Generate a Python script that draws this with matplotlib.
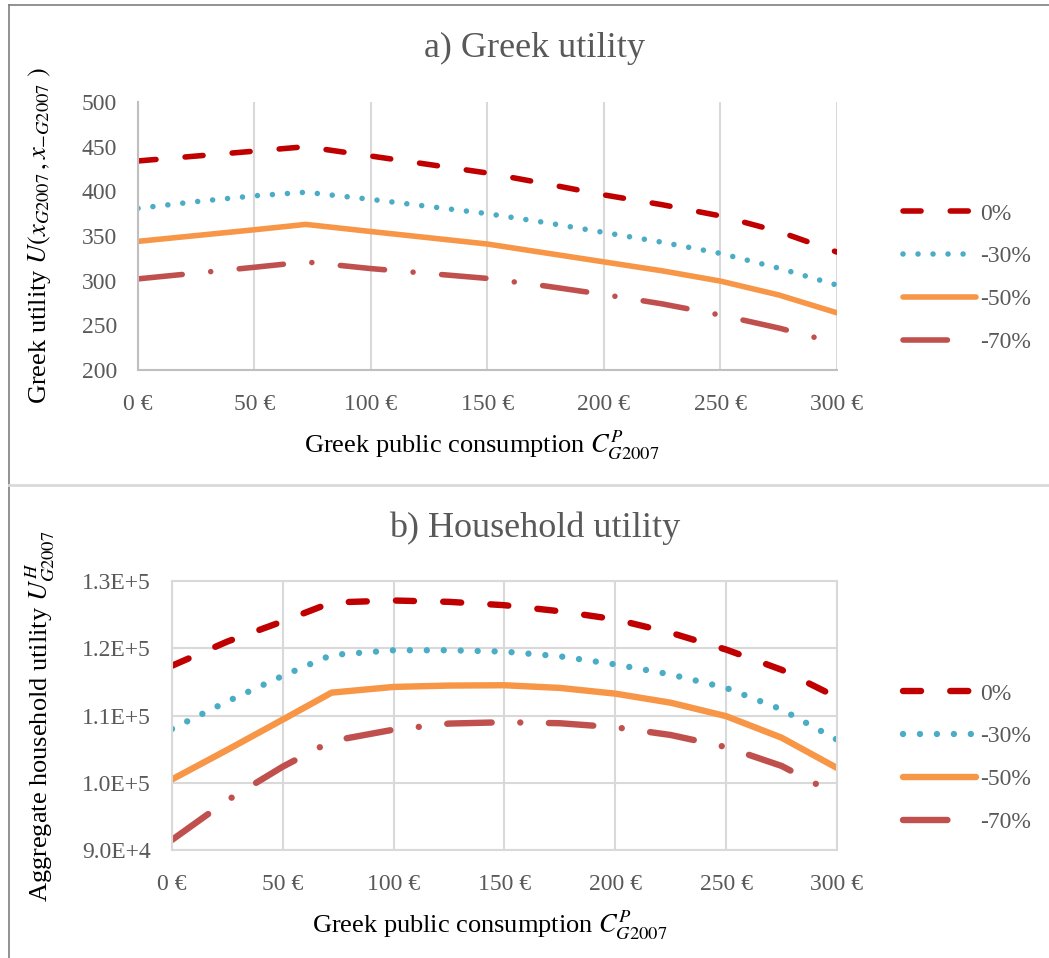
# Greek / household utility vs. public consumption, two stacked panels
import numpy as np
import matplotlib
matplotlib.use('Agg')
import matplotlib.pyplot as plt
from matplotlib.lines import Line2D
from matplotlib.ticker import FixedLocator, FuncFormatter

plt.rcParams['font.family'] = ['Liberation Serif', 'DejaVu Serif']
plt.rcParams['mathtext.fontset'] = 'stix'
plt.rcParams['lines.scale_dashes'] = False

# public consumption grid (euro)
cons = [0, 25, 50, 72, 100, 125, 150, 175, 200, 225, 250, 275, 300]
scenarios = ['0%', '-30%', '-50%', '-70%']

# a) Greek utility
greek_0 = [434, 439.5, 445, 450, 439.5, 430, 420.5, 408.5, 396, 385, 372.5, 355, 332]
greek_30 = [381, 388.5, 395, 399, 391, 383, 375, 365, 354, 343, 330.5, 314, 295]
greek_50 = [344, 350.5, 357, 363, 355, 348, 341, 331, 321, 311, 299.5, 284, 264]
greek_70 = [302, 308.5, 315, 321, 313.5, 308, 302.5, 294, 284.5, 274, 261.5, 247, 230]

# b) aggregate household utility
hh_0 = [117400, 121000, 124000, 126800, 127100, 126900, 126400, 125500, 124300, 122300, 119800, 116800, 112700]
hh_30 = [108000, 112100, 115900, 119000, 119700, 119700, 119500, 118800, 117600, 116100, 114100, 110900, 106400]
hh_50 = [100500, 104900, 109400, 113400, 114250, 114450, 114500, 114100, 113250, 111900, 109900, 106700, 102200]
hh_70 = [91500, 97400, 102400, 106200, 107900, 108800, 109000, 108850, 108250, 107100, 105300, 102500, 98200]

colors = ['#C00000', '#4BACC6', '#F79646', '#C0504D']
grey_txt = '#595959'
grid_c = '#D9D9D9'

W, H = 1049, 958
fig = plt.figure(figsize=(W / 100, H / 100), dpi=100)


def box(l, t, r, b):
    return [l / W, 1 - b / H, (r - l) / W, (b - t) / H]


def euro(v, pos):
    return '%d €' % v


def excel_sci(v, pos):
    e = int(np.floor(np.log10(v)))
    return '%.1fE+%d' % (v / 10 ** e, e)


def draw_lines(ax, series, lw, dot_gap):
    styles = [(0, (13, 21)), (0, (0.01, dot_gap)), '-', (0, (32, 20.6, 0.01, 20.6))]
    for vals, c, ls, lab in zip(series, colors, styles, scenarios):
        ax.plot(cons, vals, color=c, lw=lw, linestyle=ls, label=lab,
                dash_capstyle='round', solid_capstyle='round')


def style_axes(ax):
    ax.set_xlim(0, 300)
    ax.xaxis.set_major_locator(FixedLocator(np.arange(0, 301, 50)))
    ax.xaxis.set_major_formatter(FuncFormatter(euro))
    ax.tick_params(length=0, labelsize=17, labelcolor=grey_txt)
    ax.tick_params(axis='x', pad=17)
    ax.tick_params(axis='y', pad=15)


# top panel
ax1 = fig.add_axes(box(138, 102, 837, 370))
draw_lines(ax1, [greek_0, greek_30, greek_50, greek_70], 4.0, 10.8)
style_axes(ax1)
ax1.set_ylim(200, 500)
ax1.yaxis.set_major_locator(FixedLocator(np.arange(200, 501, 50)))
ax1.grid(axis='x', color=grid_c, lw=1.5)
ax1.set_axisbelow(True)
for s in ['top', 'right']:
    ax1.spines[s].set_visible(False)
for s in ['left', 'bottom']:
    ax1.spines[s].set_color('#BFBFBF')
    ax1.spines[s].set_linewidth(1.5)

# bottom panel
ax2 = fig.add_axes(box(172, 581, 837, 850))
draw_lines(ax2, [hh_0, hh_30, hh_50, hh_70], 4.6, 12.2)
style_axes(ax2)
ax2.set_ylim(90000, 130000)
ax2.yaxis.set_major_locator(FixedLocator(np.arange(90000, 130001, 10000)))
ax2.yaxis.set_major_formatter(FuncFormatter(excel_sci))
ax2.grid(color=grid_c, lw=1.5)
ax2.set_axisbelow(True)
for s in ax2.spines.values():
    s.set_color(grid_c)
    s.set_linewidth(1.5)

# titles and axis labels
fig.text(535 / W, 1 - 48 / H, 'a) Greek utility', ha='center', va='center',
         fontsize=26, color=grey_txt)
fig.text(535 / W, 1 - 528 / H, 'b) Household utility', ha='center', va='center',
         fontsize=26, color=grey_txt)
fig.text(482 / W, 1 - 445 / H, 'Greek public consumption $C^{P}_{G2007}$',
         ha='center', va='center', fontsize=19)
fig.text(490 / W, 1 - 925 / H, 'Greek public consumption $C^{P}_{G2007}$',
         ha='center', va='center', fontsize=19)
fig.text(40 / W, 1 - 236 / H, r'Greek utility $U(x_{G2007}\,, x_{-G2007}\ )$',
         ha='center', va='center', rotation=90, fontsize=19)
fig.text(40 / W, 1 - 716 / H, 'Aggregate household utility $U^{H}_{G2007}$',
         ha='center', va='center', rotation=90, fontsize=19)

# legends
for ax, ymid in [(ax1, 278), (ax2, 758)]:
    leg = ax.legend(loc='center left', bbox_to_anchor=(903 / W, 1 - ymid / H),
                    bbox_transform=fig.transFigure, frameon=False, fontsize=17,
                    handlelength=3.1, handletextpad=0.15, labelspacing=0.9,
                    borderpad=0, borderaxespad=0)
    for t in leg.get_texts():
        t.set_color(grey_txt)

# frame lines around the two panels
fig.add_artist(Line2D([9 / W, 9 / W], [0, 1 - 5 / H], transform=fig.transFigure,
                      color='#7F7F7F', lw=1.2))
fig.add_artist(Line2D([9 / W, 1], [1 - 5 / H, 1 - 5 / H], transform=fig.transFigure,
                      color='#7F7F7F', lw=1.2))
fig.add_artist(Line2D([9 / W, 1], [1 - 485 / H, 1 - 485 / H], transform=fig.transFigure,
                      color=grid_c, lw=2))

fig.savefig('out.png', dpi=100)
